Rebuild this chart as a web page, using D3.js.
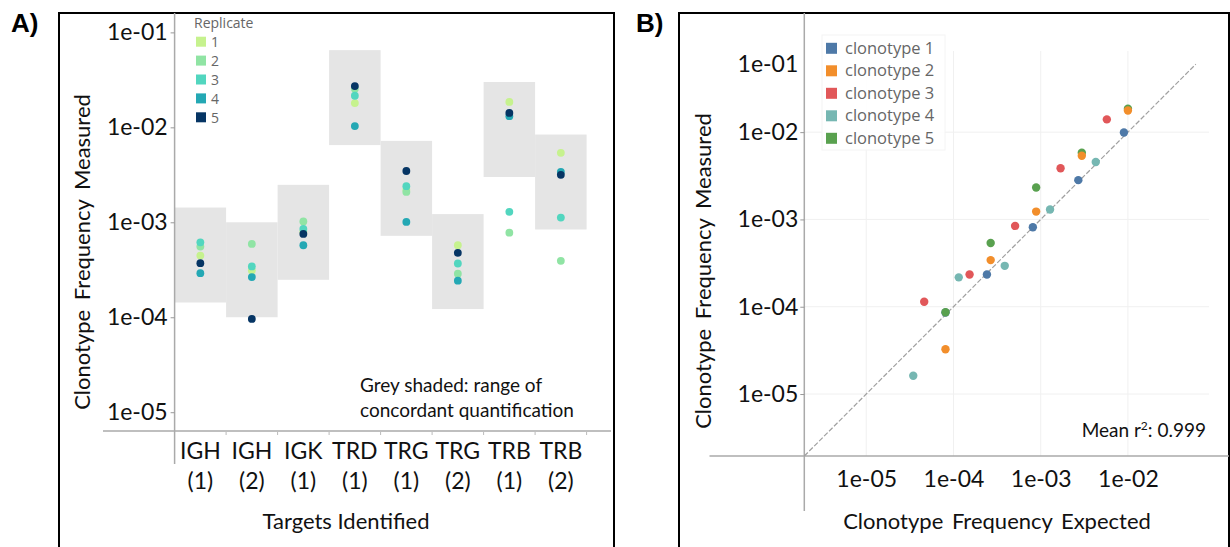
<!DOCTYPE html>
<html>
<head>
<meta charset="utf-8">
<script src="https://cdn.jsdelivr.net/npm/d3@7"></script>
<style>
    body { margin: 0; background: #fff; }
    svg { display: block; }
    .lbl { font-family: Lato, "Open Sans", sans-serif; fill: #111; }
    .leg { font-family: "Open Sans", sans-serif; fill: #666; }
</style>
</head>
<body>
<svg id="chart" width="1230" height="547"></svg>
<script>
// ---- Panel A data ----
const categories = ["IGH (1)", "IGH (2)", "IGK (1)", "TRD (1)", "TRG (1)", "TRG (2)", "TRB (1)", "TRB (2)"];
const rangeLow  = [1.43e-4, 1.0e-4, 2.48e-4, 6.5e-3, 7.2e-4, 1.22e-4, 3.0e-3, 8.4e-4];
const rangeHigh = [1.43e-3, 1.0e-3, 2.48e-3, 6.5e-2, 7.2e-3, 1.22e-3, 3.0e-2, 8.4e-3];
const rep1 = [4.46e-4, 3.11e-4, 7.9e-4, 1.80e-2, 2.2e-3, 5.73e-4, 1.85e-2, 5.39e-3];
const rep2 = [5.55e-4, 5.92e-4, 1.02e-3, 2.55e-2, 2.09e-3, 2.87e-4, 7.78e-4, 3.93e-4];
const rep3 = [6.15e-4, 3.43e-4, 8.5e-4, 2.15e-2, 2.40e-3, 3.68e-4, 1.29e-3, 1.12e-3];
const rep4 = [2.91e-4, 2.65e-4, 5.73e-4, 1.03e-2, 1.01e-3, 2.43e-4, 1.31e-2, 3.40e-3];
const rep5 = [3.71e-4, 9.6e-5, 7.54e-4, 2.72e-2, 3.47e-3, 4.77e-4, 1.42e-2, 3.16e-3];
const replicates = ["1", "2", "3", "4", "5"];
const repColors = ["#c6f28e", "#90e4a4", "#52d6bf", "#24a8b4", "#063564"];
const yTicksA = [1e-5, 1e-4, 1e-3, 1e-2, 1e-1];

// ---- Panel B data ----
const clonotypes = ["clonotype 1", "clonotype 2", "clonotype 3", "clonotype 4", "clonotype 5"];
const cloColors = ["#4e79a7", "#f28e2b", "#e15759", "#76b7b2", "#59a14f"];
const expected1 = [9.0e-3, 2.70e-3, 8.13e-4, 2.42e-4, 8.1e-5];
const measured1 = [9.9e-3, 2.82e-3, 8.15e-4, 2.34e-4, 8.6e-5];
const expected2 = [1.0e-2, 2.96e-3, 8.87e-4, 2.67e-4, 8.1e-5];
const measured2 = [1.77e-2, 5.37e-3, 1.23e-3, 3.42e-4, 3.26e-5];
const expected3 = [5.73e-3, 1.69e-3, 5.09e-4, 1.53e-4, 4.62e-5];
const measured3 = [1.40e-2, 3.85e-3, 8.43e-4, 2.34e-4, 1.14e-4];
const expected4 = [4.28e-3, 1.28e-3, 3.87e-4, 1.15e-4, 3.46e-5];
const measured4 = [4.54e-3, 1.30e-3, 2.94e-4, 2.17e-4, 1.62e-5];
const expected5 = [1.0e-2, 2.96e-3, 8.87e-4, 2.67e-4, 8.11e-5];
const measured5 = [1.85e-2, 5.82e-3, 2.32e-3, 5.38e-4, 8.63e-5];
const gridTicksB = [1e-5, 1e-4, 1e-3, 1e-2];
// the top y label sits at the end of the identity line in the original figure
const yTicksB = [1e-5, 1e-4, 1e-3, 1e-2, 6e-2];
const yTickLabelsB = ["1e-05", "1e-04", "1e-03", "1e-02", "1e-01"];
const identityEnd = 6e-2;
const meanR2 = "0.999";

const svg = d3.select("#chart");
const fmt = d => "1e-" + String(Math.round(-Math.log10(d))).padStart(2, "0");

// panel frames + letters
svg.append("path").attr("d", "M59,547 V13 H614 V547").attr("fill", "none").attr("stroke", "#000").attr("stroke-width", 2);
svg.append("path").attr("d", "M679,547 V13 H1229 V547").attr("fill", "none").attr("stroke", "#000").attr("stroke-width", 2);
svg.append("text").attr("x", 11).attr("y", 32).text("A)")
    .style("font", "bold 26px 'Liberation Sans', Arial, sans-serif");
svg.append("text").attr("x", 636).attr("y", 32).text("B)")
    .style("font", "bold 26px 'Liberation Sans', Arial, sans-serif");

// ================= Panel A =================
const xA = d3.scaleBand().domain(categories).range([174.6, 586.6]).padding(0);
const yA = d3.scaleLog().domain([6.34e-6, 0.16]).range([431, 13]);
const gA = svg.append("g");

// grey concordance ranges
gA.selectAll("rect.range")
    .data(categories)
    .join("rect")
    .attr("x", d => xA(d))
    .attr("width", xA.bandwidth())
    .attr("y", (d, i) => yA(rangeHigh[i]))
    .attr("height", (d, i) => yA(rangeLow[i]) - yA(rangeHigh[i]))
    .attr("fill", "#e5e5e5");

// axis lines
gA.append("line").attr("x1", 174.6).attr("x2", 174.6).attr("y1", 13).attr("y2", 464)
    .attr("stroke", "#aaa").attr("stroke-width", 1.5);
gA.append("line").attr("x1", 103).attr("x2", 611).attr("y1", yA.range()[0]).attr("y2", yA.range()[0])
    .attr("stroke", "#aaa").attr("stroke-width", 1.5);

// y axis
const yAxisA = gA.append("g").attr("transform", "translate(174.6,0)")
    .call(d3.axisLeft(yA).tickValues(yTicksA).tickFormat(fmt).tickSize(4).tickPadding(3));
yAxisA.select(".domain").remove();
yAxisA.selectAll("line").attr("stroke", "#999");
yAxisA.selectAll("text").attr("class", "lbl").style("font-size", "23px").attr("fill", "#111");

// band boundary ticks
gA.selectAll("line.btick")
    .data(categories)
    .join("line")
    .attr("x1", d => xA(d) + xA.bandwidth()).attr("x2", d => xA(d) + xA.bandwidth())
    .attr("y1", 432).attr("y2", 435)
    .attr("stroke", "#bbb");

// category labels (two lines)
const catText = gA.selectAll("text.cat")
    .data(categories)
    .join("text")
    .attr("class", "lbl")
    .attr("text-anchor", "middle")
    .style("font-size", "23px");
catText.append("tspan")
    .attr("x", d => xA(d) + xA.bandwidth() / 2).attr("y", 459)
    .text(d => d.split(" ")[0]);
catText.append("tspan")
    .attr("x", d => xA(d) + xA.bandwidth() / 2).attr("y", 489)
    .text(d => d.split(" ")[1]);

// points
const repValues = [rep1, rep2, rep3, rep4, rep5];
repValues.forEach((vals, r) => {
    gA.selectAll("circle.r" + r)
        .data(vals)
        .join("circle")
        .attr("cx", (d, i) => xA(categories[i]) + xA.bandwidth() / 2)
        .attr("cy", d => yA(d))
        .attr("r", 3.9)
        .attr("fill", repColors[r]);
});

// titles
gA.append("text").attr("class", "lbl").attr("text-anchor", "middle")
    .attr("transform", "translate(90,252) rotate(-90)")
    .style("font-size", "22px").style("word-spacing", "4px")
    .text("Clonotype Frequency Measured");
gA.append("text").attr("class", "lbl").attr("text-anchor", "middle")
    .attr("x", 346).attr("y", 529)
    .style("font-size", "22px")
    .text("Targets Identified");
const note = gA.append("text").attr("class", "lbl").style("font-size", "19px");
note.append("tspan").attr("x", 360).attr("y", 392).text("Grey shaded: range of");
note.append("tspan").attr("x", 360).attr("y", 417).text("concordant quantification");

// legend
const legA = gA.append("g");
legA.append("text").attr("class", "leg").attr("x", 194).attr("y", 28)
    .style("font-size", "14px").attr("fill", "#555").text("Replicate");
const legRowsA = legA.selectAll("g.row")
    .data(replicates)
    .join("g")
    .attr("transform", (d, i) => `translate(196,${41.7 + i * 18.9})`);
legRowsA.append("rect").attr("x", 0).attr("y", -5).attr("width", 10).attr("height", 10)
    .attr("fill", (d, i) => repColors[i]);
legRowsA.append("text").attr("class", "leg").attr("x", 15).attr("y", 5.5)
    .style("font-size", "14px").text(d => d);

// ================= Panel B =================
const xB = d3.scaleLog().domain([1.95e-6, 0.085]).range([804.3, 1209]);
const yB = d3.scaleLog().domain([1.95e-6, 0.085]).range([456, 51]);
const gB = svg.append("g");

// faint grid
gB.selectAll("line.gx")
    .data(gridTicksB)
    .join("line")
    .attr("x1", d => xB(d)).attr("x2", d => xB(d))
    .attr("y1", yB.range()[1]).attr("y2", yB.range()[0])
    .attr("stroke", "#f0f0f0");
gB.selectAll("line.gy")
    .data(gridTicksB)
    .join("line")
    .attr("x1", xB.range()[0]).attr("x2", xB.range()[1])
    .attr("y1", d => yB(d)).attr("y2", d => yB(d))
    .attr("stroke", "#f0f0f0");

// axis lines
gB.append("line").attr("x1", 804.3).attr("x2", 804.3).attr("y1", 13).attr("y2", 511)
    .attr("stroke", "#aaa").attr("stroke-width", 1.5);
gB.append("line").attr("x1", 709.5).attr("x2", 1229).attr("y1", 456).attr("y2", 456)
    .attr("stroke", "#aaa").attr("stroke-width", 1.5);

// identity line
gB.append("line")
    .attr("x1", xB(xB.domain()[0])).attr("y1", yB(yB.domain()[0]))
    .attr("x2", xB(identityEnd)).attr("y2", yB(identityEnd))
    .attr("stroke", "#a0a0a0").attr("stroke-width", 1.2).attr("stroke-dasharray", "5,2");

// y axis
const yAxisB = gB.append("g").attr("transform", "translate(804.3,0)")
    .call(d3.axisLeft(yB).tickValues(yTicksB).tickFormat((d, i) => yTickLabelsB[i]).tickSize(4).tickPadding(2));
yAxisB.select(".domain").remove();
yAxisB.selectAll("line").attr("stroke", "#999");
yAxisB.selectAll(".tick").filter((d, i) => i === yTicksB.length - 1).select("line").remove();
yAxisB.selectAll("text").attr("class", "lbl").style("font-size", "23px").attr("fill", "#111");

// x axis
const xAxisB = gB.append("g").attr("transform", "translate(0,456)")
    .call(d3.axisBottom(xB).tickValues(gridTicksB).tickFormat(fmt).tickSize(0).tickPadding(15));
xAxisB.select(".domain").remove();
xAxisB.selectAll("text").attr("class", "lbl").style("font-size", "23px").attr("fill", "#111");

// points (drawing order keeps orange above green like the original)
const cloSeries = [
    { c: 0, ex: expected1, me: measured1 },
    { c: 2, ex: expected3, me: measured3 },
    { c: 3, ex: expected4, me: measured4 },
    { c: 4, ex: expected5, me: measured5 },
    { c: 1, ex: expected2, me: measured2 }
];
cloSeries.forEach(s => {
    gB.selectAll("circle.c" + s.c)
        .data(s.ex)
        .join("circle")
        .attr("cx", d => xB(d))
        .attr("cy", (d, i) => yB(s.me[i]))
        .attr("r", 4.2)
        .attr("fill", cloColors[s.c]);
});

// legend
const legB = gB.append("g");
legB.append("rect").attr("x", 822).attr("y", 35).attr("width", 123).attr("height", 115)
    .attr("fill", "#fff").attr("fill-opacity", 0.85).attr("stroke", "#f4f4f4");
const legRowsB = legB.selectAll("g.row")
    .data(clonotypes)
    .join("g")
    .attr("transform", (d, i) => `translate(826,${48.3 + i * 22.5})`);
legRowsB.append("rect").attr("x", 0).attr("y", -5.5).attr("width", 11).attr("height", 11)
    .attr("fill", (d, i) => cloColors[i]);
legRowsB.append("text").attr("class", "leg").attr("x", 19).attr("y", 5.5)
    .style("font-size", "16.5px").text(d => d);

// titles
gB.append("text").attr("class", "lbl").attr("text-anchor", "middle")
    .attr("transform", "translate(711,271) rotate(-90)")
    .style("font-size", "22px").style("word-spacing", "4px")
    .text("Clonotype Frequency Measured");
gB.append("text").attr("class", "lbl").attr("text-anchor", "middle")
    .attr("x", 997).attr("y", 529)
    .style("font-size", "22px").style("word-spacing", "3px")
    .text("Clonotype Frequency Expected");
const r2 = gB.append("text").attr("class", "lbl").attr("text-anchor", "end")
    .attr("x", 1206).attr("y", 437).style("font-size", "19px");
r2.append("tspan").text("Mean r");
r2.append("tspan").attr("dy", -7).style("font-size", "12px").text("2");
r2.append("tspan").attr("dy", 7).text(": " + meanR2);
</script>
</body>
</html>
